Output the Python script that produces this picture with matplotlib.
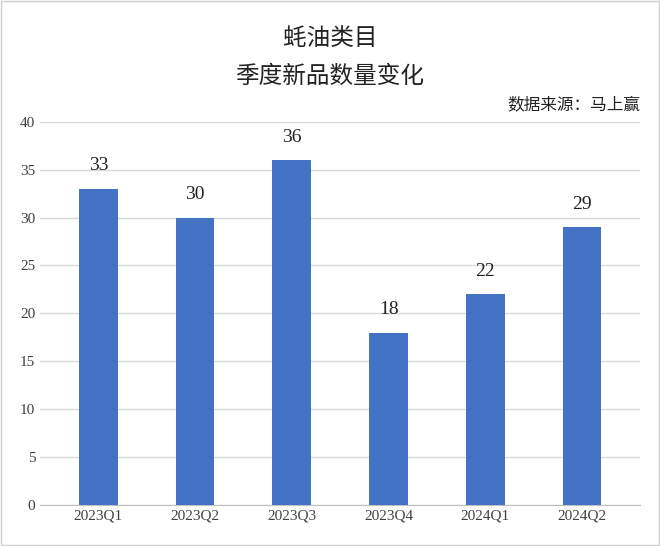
import matplotlib.pyplot as plt
from matplotlib.patches import Rectangle

plt.rcParams['font.family'] = ['Liberation Serif', 'Noto Sans CJK SC', 'DejaVu Sans']

quarters = ['2023Q1', '2023Q2', '2023Q3', '2023Q4', '2024Q1', '2024Q2']
counts = [33, 30, 36, 18, 22, 29]

fig = plt.figure(figsize=(6.6, 5.46), dpi=100)
ax = fig.add_axes([0.061, 0.075, 0.909, 0.702])

bars = ax.bar(range(len(quarters)), counts, width=0.4, color='#4472C4', zorder=3)
for i, v in enumerate(counts):
    ax.text(i, v + 1.5, str(v), ha='center', va='bottom', fontsize=14, color='#222222')

ax.set_ylim(0, 40)
ax.set_yticks(range(0, 41, 5))
ax.set_xlim(-0.6, 5.6)
ax.set_xticks(range(len(quarters)))
ax.set_xticklabels(quarters)
ax.tick_params(axis='both', length=0, labelsize=11, colors='#404040')
ax.grid(axis='y', color='#d9d9d9', linewidth=1, zorder=0)
for s in ['top', 'right', 'left']:
    ax.spines[s].set_visible(False)
ax.spines['bottom'].set_color('#bfbfbf')

# title and source
fig.text(0.5, 0.93, '蚝油类目', ha='center', va='center', fontsize=17,
         family=['Noto Sans CJK SC'], color='#222222')
fig.text(0.5, 0.86, '季度新品数量变化', ha='center', va='center', fontsize=17,
         family=['Noto Sans CJK SC'], color='#222222')
fig.text(0.97, 0.808, '数据来源：马上赢', ha='right', va='center', fontsize=12,
         family=['Noto Sans CJK SC'], color='#222222')

fig.patches.append(Rectangle((0.002, 0.002), 0.996, 0.996, transform=fig.transFigure,
                             fill=False, edgecolor='#d0d0d0', linewidth=1))

fig.savefig('out.png', dpi=100)
